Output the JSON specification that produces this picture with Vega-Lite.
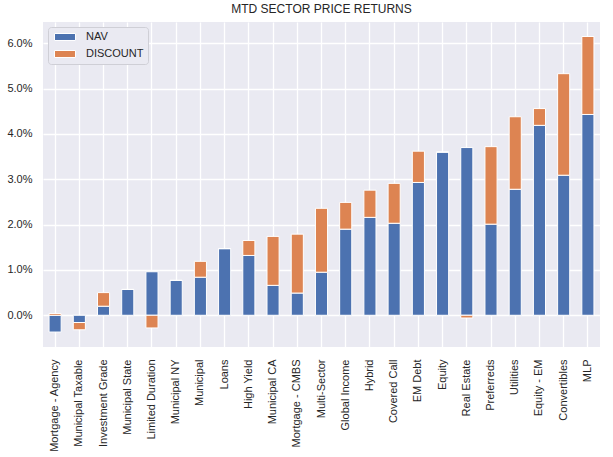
{
  "$schema": "https://vega.github.io/schema/vega-lite/v6.json",
  "width": 557,
  "height": 325,
  "autosize": {"type": "none"},
  "padding": {"left": 43, "top": 22, "right": 13, "bottom": 110},
  "background": "white",
  "title": {"text": "MTD SECTOR PRICE RETURNS", "fontSize": 12, "fontWeight": "normal", "font": "Liberation Sans", "color": "#262626", "offset": 6, "anchor": "middle"},
  "config": {
    "view": {"fill": "#EAEAF2", "stroke": null},
    "font": "Liberation Sans",
    "axis": {"gridColor": "white", "gridWidth": 1.3, "gridOpacity": 1, "domain": false, "ticks": false, "tickSize": 0, "labelFont": "Liberation Sans", "labelFontSize": 11, "labelColor": "#262626", "title": null}
  },
  "data": {"values": [
    {"sector": "Mortgage - Agency", "series": "NAV", "o": 0, "v": -0.0037},
    {"sector": "Mortgage - Agency", "series": "DISCOUNT", "o": 1, "v": 0.0004},
    {"sector": "Municipal Taxable", "series": "NAV", "o": 0, "v": -0.0016},
    {"sector": "Municipal Taxable", "series": "DISCOUNT", "o": 1, "v": -0.0016},
    {"sector": "Investment Grade", "series": "NAV", "o": 0, "v": 0.0020},
    {"sector": "Investment Grade", "series": "DISCOUNT", "o": 1, "v": 0.0030},
    {"sector": "Municipal State", "series": "NAV", "o": 0, "v": 0.0057},
    {"sector": "Municipal State", "series": "DISCOUNT", "o": 1, "v": 0.0},
    {"sector": "Limited Duration", "series": "NAV", "o": 0, "v": 0.0096},
    {"sector": "Limited Duration", "series": "DISCOUNT", "o": 1, "v": -0.0028},
    {"sector": "Municipal NY", "series": "NAV", "o": 0, "v": 0.0077},
    {"sector": "Municipal NY", "series": "DISCOUNT", "o": 1, "v": 0.0},
    {"sector": "Municipal", "series": "NAV", "o": 0, "v": 0.0084},
    {"sector": "Municipal", "series": "DISCOUNT", "o": 1, "v": 0.0035},
    {"sector": "Loans", "series": "NAV", "o": 0, "v": 0.0147},
    {"sector": "Loans", "series": "DISCOUNT", "o": 1, "v": 0.0},
    {"sector": "High Yield", "series": "NAV", "o": 0, "v": 0.0132},
    {"sector": "High Yield", "series": "DISCOUNT", "o": 1, "v": 0.0033},
    {"sector": "Municipal CA", "series": "NAV", "o": 0, "v": 0.0066},
    {"sector": "Municipal CA", "series": "DISCOUNT", "o": 1, "v": 0.0108},
    {"sector": "Mortgage - CMBS", "series": "NAV", "o": 0, "v": 0.0049},
    {"sector": "Mortgage - CMBS", "series": "DISCOUNT", "o": 1, "v": 0.0130},
    {"sector": "Multi-Sector", "series": "NAV", "o": 0, "v": 0.0095},
    {"sector": "Multi-Sector", "series": "DISCOUNT", "o": 1, "v": 0.0141},
    {"sector": "Global Income", "series": "NAV", "o": 0, "v": 0.0190},
    {"sector": "Global Income", "series": "DISCOUNT", "o": 1, "v": 0.0059},
    {"sector": "Hybrid", "series": "NAV", "o": 0, "v": 0.0216},
    {"sector": "Hybrid", "series": "DISCOUNT", "o": 1, "v": 0.0060},
    {"sector": "Covered Call", "series": "NAV", "o": 0, "v": 0.0203},
    {"sector": "Covered Call", "series": "DISCOUNT", "o": 1, "v": 0.0088},
    {"sector": "EM Debt", "series": "NAV", "o": 0, "v": 0.0293},
    {"sector": "EM Debt", "series": "DISCOUNT", "o": 1, "v": 0.0069},
    {"sector": "Equity", "series": "NAV", "o": 0, "v": 0.0360},
    {"sector": "Equity", "series": "DISCOUNT", "o": 1, "v": 0.0},
    {"sector": "Real Estate", "series": "NAV", "o": 0, "v": 0.0370},
    {"sector": "Real Estate", "series": "DISCOUNT", "o": 1, "v": -0.0006},
    {"sector": "Preferreds", "series": "NAV", "o": 0, "v": 0.0201},
    {"sector": "Preferreds", "series": "DISCOUNT", "o": 1, "v": 0.0171},
    {"sector": "Utilities", "series": "NAV", "o": 0, "v": 0.0278},
    {"sector": "Utilities", "series": "DISCOUNT", "o": 1, "v": 0.0160},
    {"sector": "Equity - EM", "series": "NAV", "o": 0, "v": 0.0419},
    {"sector": "Equity - EM", "series": "DISCOUNT", "o": 1, "v": 0.0037},
    {"sector": "Convertibles", "series": "NAV", "o": 0, "v": 0.0309},
    {"sector": "Convertibles", "series": "DISCOUNT", "o": 1, "v": 0.0224},
    {"sector": "MLP", "series": "NAV", "o": 0, "v": 0.0443},
    {"sector": "MLP", "series": "DISCOUNT", "o": 1, "v": 0.0172}
  ]},
  "mark": {"type": "bar", "stroke": "white", "strokeWidth": 1},
  "encoding": {
    "x": {"field": "sector", "type": "nominal", "sort": null,
      "scale": {"paddingInner": 0.5, "paddingOuter": 0.25},
      "axis": {"labelAngle": -90, "labelPadding": 12, "grid": true, "bandPosition": 0.5}},
    "y": {"field": "v", "type": "quantitative", "stack": "zero",
      "scale": {"domain": [-0.0070, 0.0647], "nice": false, "zero": false},
      "axis": {"values": [0, 0.01, 0.02, 0.03, 0.04, 0.05, 0.06], "format": ".1%", "labelPadding": 11, "grid": true}},
    "color": {"field": "series", "type": "nominal",
      "scale": {"domain": ["NAV", "DISCOUNT"], "range": ["#4C72B0", "#DD8452"]},
      "legend": {"title": null, "orient": "top-left", "offset": 5, "padding": 4,
        "fillColor": "#EAEAF2", "strokeColor": "#cfcfd6", "cornerRadius": 3,
        "symbolType": "M-2,-0.667H2V0.667H-2Z", "symbolSize": 110, "symbolStrokeColor": "white", "symbolStrokeWidth": 1, "symbolOpacity": 1,
        "symbolOffset": 7,
        "labelFontSize": 11, "labelFont": "Liberation Sans", "labelColor": "#262626", "labelOffset": 15, "rowPadding": 5}},
    "order": {"field": "o", "type": "quantitative"}
  }
}
